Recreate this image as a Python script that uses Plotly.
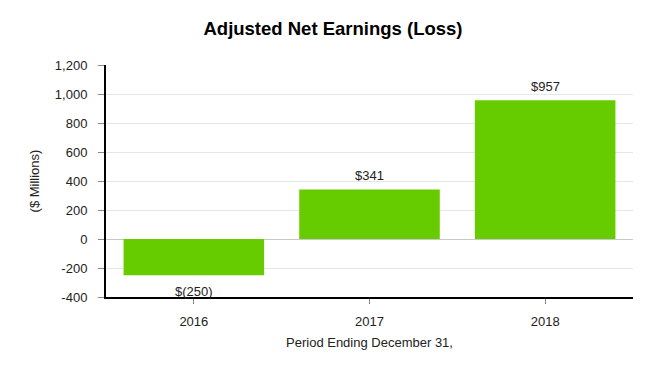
import plotly.graph_objects as go

categories = ["2016", "2017", "2018"]
values = [-250, 341, 957]
labels = ["$(250)", "$341", "$957"]
y_ticks = [-400, -200, 0, 200, 400, 600, 800, 1000, 1200]
y_tick_text = ["-400", "-200", "0", "200", "400", "600", "800", "1,000", "1,200"]

FONT = "Liberation Sans, Arial, sans-serif"
GREEN = "#66CC00"

fig = go.Figure()
fig.add_trace(go.Bar(x=categories, y=values, marker=dict(color=GREEN, line=dict(width=0)),
                     hoverinfo="skip"))

for i, (v, t) in enumerate(zip(values, labels)):
    fig.add_annotation(x=i, y=v, xref="x", yref="y", text=t, showarrow=False,
                       yshift=14 if v >= 0 else -16,
                       font=dict(family=FONT, size=13, color="#222"))

fig.update_layout(
    width=666, height=380,
    margin=dict(l=106, r=33, t=65, b=83, autoexpand=False),
    paper_bgcolor="white", plot_bgcolor="white",
    bargap=0.2,
    showlegend=False,
    title=dict(text="<b>Adjusted Net Earnings (Loss)</b>", x=0.5, xanchor="center",
               y=1 - 29 / 380, yanchor="middle", font=dict(family=FONT, size=18.5, color="#000")),
    font=dict(family=FONT, size=13, color="#222"),
)
fig.update_xaxes(
    type="category", range=[-0.5, 2.5],
    showline=True, linecolor="#000", linewidth=2,
    ticks="outside", ticklen=5, tickcolor="#888", tickwidth=1,
    ticklabelstandoff=6,
    title=dict(text="Period Ending December 31,", standoff=10,
               font=dict(family=FONT, size=13, color="#222")),
    tickfont=dict(family=FONT, size=13, color="#222"),
)
fig.update_yaxes(
    range=[-400, 1200], tickvals=y_ticks, ticktext=y_tick_text,
    showline=True, linecolor="#000", linewidth=2,
    ticks="outside", ticklen=6, tickcolor="#888", tickwidth=1,
    ticklabelstandoff=8,
    showgrid=True, gridcolor="#e6e6e6", gridwidth=1,
    zeroline=True, zerolinecolor="#c8c8c8", zerolinewidth=1,
    title=dict(text="($ Millions)", standoff=12,
               font=dict(family=FONT, size=13, color="#222")),
    tickfont=dict(family=FONT, size=13, color="#222"),
)

fig.write_html("out.html", config={"displayModeBar": False},
               post_script="document.body.style.margin='0';")
